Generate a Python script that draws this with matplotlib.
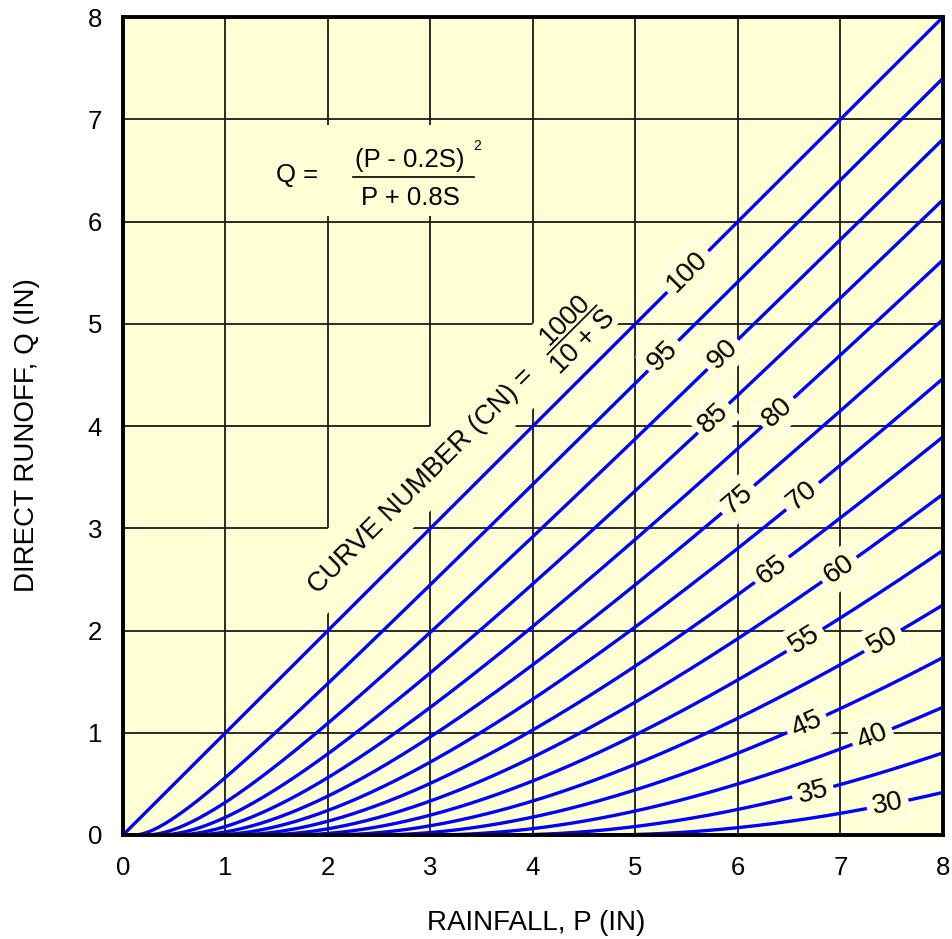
import numpy as np
import matplotlib
matplotlib.use("Agg")
import matplotlib.pyplot as plt
from matplotlib.patches import Polygon, Rectangle

plt.rcParams['font.family'] = ['Liberation Sans', 'DejaVu Sans']

# ---- data ----
curve_numbers = [100, 95, 90, 85, 80, 75, 70, 65, 60, 55, 50, 45, 40, 35, 30]
label_p = [5.51, 5.27, 5.85, 5.76, 6.39, 6.00, 6.63, 6.33, 6.99, 6.65, 7.41, 6.67, 7.31, 6.73, 7.46]
x_ticks = [0, 1, 2, 3, 4, 5, 6, 7, 8]
y_ticks = [0, 1, 2, 3, 4, 5, 6, 7, 8]

BG = '#FFFFD5'
BLUE = '#0000FF'


def runoff(p, cn):
    s = 1000.0 / cn - 10.0
    ia = 0.2 * s
    q = np.where(p > ia, (p - ia) ** 2 / (p + 0.8 * s), 0.0)
    return q


fig = plt.figure(figsize=(9.53, 9.39), dpi=100)
ax = fig.add_axes([123 / 953, 1 - 835 / 939, 820 / 953, 818 / 939])
ax.set_facecolor(BG)
ax.set_xlim(0, 8)
ax.set_ylim(0, 8)
ax.set_xticks(x_ticks)
ax.set_yticks(y_ticks)
ax.tick_params(length=0, labelsize=18.5, pad=15)
for sp in ax.spines.values():
    sp.set_linewidth(2.8)
    sp.set_zorder(10)

# grid
for v in x_ticks[1:-1]:
    ax.axvline(v, color='#1a1a1a', lw=1.3, zorder=1)
for v in y_ticks[1:-1]:
    ax.axhline(v, color='#1a1a1a', lw=1.3, zorder=1)

# curves
P = np.linspace(0, 8, 800)
for cn in curve_numbers:
    q = runoff(P, cn)
    ax.plot(P, q, color=BLUE, lw=2.4, zorder=3, solid_capstyle='butt')


def disp_angle(p, q, dq):
    p0 = ax.transData.transform((p, q))
    p1 = ax.transData.transform((p + 0.01, q + 0.01 * dq))
    return np.degrees(np.arctan2(p1[1] - p0[1], p1[0] - p0[0]))


# curve labels
for cn, lp in zip(curve_numbers, label_p):
    q = float(runoff(np.array(lp), cn))
    dq = (float(runoff(np.array(lp + 0.01), cn)) - float(runoff(np.array(lp - 0.01), cn))) / 0.02
    ang = disp_angle(lp, q, dq)
    ax.text(lp, q, str(cn), fontsize=20, rotation=ang, rotation_mode='anchor',
            ha='center', va='center', zorder=6,
            bbox=dict(boxstyle='square,pad=0.18', facecolor=BG, edgecolor='white', lw=1.0))

# formula box
ax.add_patch(Rectangle((1.5, 6.05), 2.1, 0.89, facecolor=BG, edgecolor='none', zorder=2))
ax.text(1.70, 6.45, 'Q =', fontsize=18.5, ha='center', va='center', zorder=6)
ax.text(2.80, 6.60, '(P - 0.2S)', fontsize=18.5, ha='center', va='center', zorder=6)
ax.text(3.46, 6.74, '2', fontsize=10, ha='center', va='center', zorder=6)
ax.plot([2.24, 3.42], [6.44, 6.44], color='black', lw=1.2, zorder=6)
ax.text(2.80, 6.23, 'P + 0.8S', fontsize=18.5, ha='center', va='center', zorder=6)

# curve number label box (rotated)
corners = []
for a, b in [(-1.0, 4.1), (-0.17, 4.1), (-0.17, 10.0), (-1.0, 10.0)]:
    corners.append(((a + b) / 2, (b - a) / 2))
ax.add_patch(Polygon(corners, closed=True, facecolor=BG, edgecolor='none', zorder=2))
ang45 = disp_angle(3.0, 3.0, 1.0)
ax.text(2.91, 3.46, 'CURVE NUMBER (CN) =', fontsize=19.5, rotation=ang45,
        rotation_mode='anchor', ha='center', va='center', zorder=6)
ax.text(4.31, 5.04, '1000', fontsize=19.5, rotation=ang45,
        rotation_mode='anchor', ha='center', va='center', zorder=6)
ax.text(4.49, 4.82, '10 + S', fontsize=19.5, rotation=ang45,
        rotation_mode='anchor', ha='center', va='center', zorder=6)
ax.plot([4.14, 4.62], [4.70, 5.18], color='black', lw=1.2, zorder=6)

fig.text(536 / 953, 1 - 923 / 939, 'RAINFALL, P (IN)', fontsize=20, ha='center', va='center')
fig.text(27 / 953, 1 - 435 / 939, 'DIRECT RUNOFF, Q (IN)', fontsize=20, ha='center',
         va='center', rotation=90)

fig.savefig('out.png', dpi=100, facecolor='white')
